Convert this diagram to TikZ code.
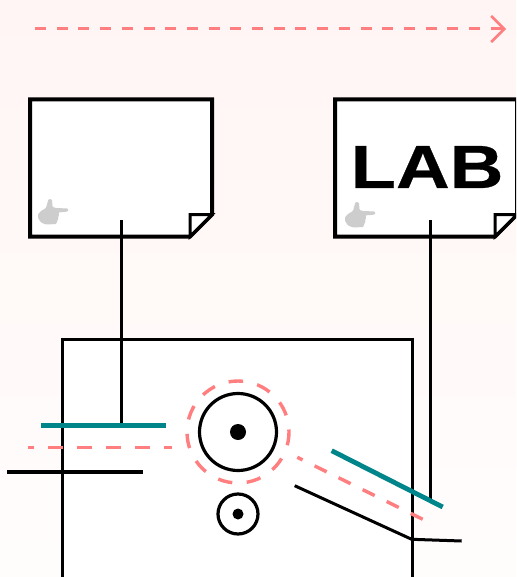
\documentclass[tikz,border=0pt]{standalone}
\usepackage{fontspec}
\setmainfont{Liberation Sans}
\newfontfamily\labfont[FakeStretch=1.22,FakeBold=0.5]{Liberation Sans Bold}
\usetikzlibrary{arrows.meta,positioning,calc}
\definecolor{ink}{HTML}{000000}
\definecolor{beam}{HTML}{FF7F80}
\definecolor{mirror}{HTML}{00858A}
\definecolor{paper}{HTML}{FFFFFF}
\definecolor{pointer}{HTML}{CDCDCD}
\definecolor{tinttop}{HTML}{FFF5F4}
\definecolor{tintlow}{HTML}{FFFDFC}
\tikzset{
  x=1pt,y=-1pt,
  sheet/.style={inner sep=0pt,outer sep=0pt,minimum width=182pt,minimum height=137pt},
  outline/.style={draw=ink,line width=4pt,fill=paper,line join=miter},
  fold/.style={draw=ink,line width=3pt,fill=paper,line join=miter},
  lab/.style={font=\labfont\fontsize{61}{61}\selectfont,text=ink,inner sep=0pt},
  housing/.style={draw=ink,line width=3pt,fill=paper,minimum width=350pt,minimum height=300pt,inner sep=0pt,outer sep=0pt},
  wheel/.style={circle,draw=ink,line width=3.2pt,fill=paper,inner sep=0pt,outer sep=0pt},
  hub/.style={circle,fill=ink,inner sep=0pt,outer sep=0pt},
  ring/.style={circle,draw=beam,line width=3.4pt,dash pattern=on 14.5pt off 14.5pt,dash phase=12pt,inner sep=0pt,outer sep=0pt,minimum size=102pt},
  stem/.style={draw=ink,line width=3pt},
  bar/.style={draw=ink,line width=3.6pt},
  tealbar/.style={draw=mirror,line width=4.8pt},
  ray/.style={draw=beam,line width=3.4pt},
}
\newcommand{\pageoutline}[1]{
  \draw[outline] (#1.north west) -- (#1.north east) -- ($(#1.south east)+(0,-22)$) -- ($(#1.south east)+(-22,0)$) -- (#1.south west) -- cycle;
  \draw[fold] ($(#1.south east)+(0,-22)$) -- ($(#1.south east)+(-22,-22)$) -- ($(#1.south east)+(-22,0)$) -- cycle;
}
\newcommand{\handicon}[1]{
  \fill[pointer,rounded corners=1pt,shift={(#1)}] (10.5,0) -- (14,0.5) -- (14.5,8) -- (18,9) -- (30,9.5) -- (30,12.5) -- (20,13.5) -- (21.5,15.5) -- (20,17.5) -- (20.5,20) -- (19,22) -- (18.5,25) -- (8,25.5) -- (3,23.5) -- (0,19) -- (0,15) -- (3,12) -- (8,9) -- cycle;
}

\begin{document}
\begin{tikzpicture}

\useasboundingbox (0,0) rectangle (516,577);
\clip (0,0) rectangle (516,577);
\shade[top color=tinttop,bottom color=tintlow] (0,0) rectangle (516,577);

% direction of travel
\coordinate (flowstart) at (35,29);
\coordinate (flowend) at (506,29);
\draw[ray,line width=3pt,dash pattern=on 11pt off 10.7pt,-{Straight Barb[length=13pt,width=26pt,line width=2.6pt]}] (flowstart) -- (flowend);

% the two sheets
\node[sheet] (sheetA) at (121,168) {};
\node[sheet,right=123pt of sheetA] (sheetB) {};
\pageoutline{sheetA}
\pageoutline{sheetB}
\handicon{38,199}
\handicon{345,202}
\node[lab] (lab) at (427,167) {LAB};

\node[housing,anchor=north west] (box) at (62,339) {};

\node[ring] (ring) at (238,432) {};
\node[wheel,minimum size=77pt] (drum) at (238,432) {};
\node[hub,minimum size=16pt] (drumhub) at (drum.center) {};
\node[wheel,minimum size=40pt,below=82pt of drum.center,anchor=center] (roller) {};
\node[hub,minimum size=11pt] (rollerhub) at (roller.center) {};

% left side
\coordinate (tealAw) at (41,425.7);
\coordinate (tealAe) at (166,425.7);
\coordinate (tealAm) at (121,425.7);
\coordinate[above=16.5pt of sheetA.south] (tapA);
\draw[stem] (tapA) -- (tealAm);
\draw[tealbar] (tealAw) -- (tealAe);
\coordinate (beamAe) at (172,447.5);
\coordinate (beamAw) at (28,447.5);
\draw[ray,dash pattern=on 14.5pt off 14.5pt,dash phase=6.5pt] (beamAe) -- (beamAw);
\coordinate (barAw) at (7,471.7);
\coordinate (barAe) at (143,471.7);
\draw[bar] (barAw) -- (barAe);

% right side
\coordinate (tealBn) at (331.7,450.7);
\coordinate (tealBs) at (442.7,507);
\coordinate (tealBm) at (430.3,500);
\coordinate (tapB) at (430.3,220);
\draw[stem] (tapB) -- (tealBm);
\draw[tealbar] (tealBn) -- (tealBs);
\coordinate (beamBs) at (422.7,519.3);
\coordinate (beamBn) at (297.3,457.3);
\draw[ray,dash pattern=on 13.4pt off 13.4pt] (beamBs) -- (beamBn);
\coordinate (barBa) at (294.7,485.7);
\coordinate (barBb) at (411.7,539.3);
\coordinate (barBc) at (461.7,541);
\draw[stem] (barBa) -- (barBb) -- (barBc);

\end{tikzpicture}
\end{document}
